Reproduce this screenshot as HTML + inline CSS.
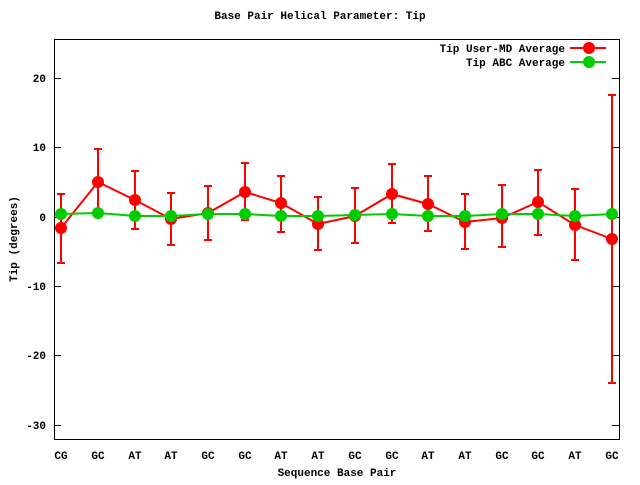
<!DOCTYPE html><html><head><style>body{margin:0;background:#fff}</style></head><body>
<svg width="640" height="480" xmlns="http://www.w3.org/2000/svg" font-family="Liberation Mono, monospace" font-size="11" font-weight="bold">
<rect width="640" height="480" fill="#fff"/>
<text x="320" y="19" text-anchor="middle">Base Pair Helical Parameter: Tip</text>
<rect x="54.5" y="39.5" width="565" height="400" fill="none" stroke="#000"/>
<g stroke="#000">
<line x1="54" y1="78.5" x2="61" y2="78.5"/><line x1="612" y1="78.5" x2="619" y2="78.5"/>
<line x1="54" y1="147.5" x2="61" y2="147.5"/><line x1="612" y1="147.5" x2="619" y2="147.5"/>
<line x1="54" y1="217.5" x2="61" y2="217.5"/><line x1="612" y1="217.5" x2="619" y2="217.5"/>
<line x1="54" y1="286.5" x2="61" y2="286.5"/><line x1="612" y1="286.5" x2="619" y2="286.5"/>
<line x1="54" y1="355.5" x2="61" y2="355.5"/><line x1="612" y1="355.5" x2="619" y2="355.5"/>
<line x1="54" y1="425.5" x2="61" y2="425.5"/><line x1="612" y1="425.5" x2="619" y2="425.5"/>
</g>
<g text-anchor="end">
<text x="46" y="82">20</text><text x="46" y="151">10</text><text x="46" y="221">0</text>
<text x="46" y="290">-10</text><text x="46" y="359">-20</text><text x="46" y="429">-30</text>
</g>
<g text-anchor="middle">
<text x="61" y="459">CG</text><text x="98" y="459">GC</text><text x="135" y="459">AT</text><text x="171" y="459">AT</text>
<text x="208" y="459">GC</text><text x="245" y="459">GC</text><text x="281" y="459">AT</text><text x="318" y="459">AT</text>
<text x="355" y="459">GC</text><text x="392" y="459">GC</text><text x="428" y="459">AT</text><text x="465" y="459">AT</text>
<text x="502" y="459">GC</text><text x="538" y="459">GC</text><text x="575" y="459">AT</text><text x="612" y="459">GC</text>
<text x="337" y="476">Sequence Base Pair</text>
</g>
<text transform="translate(17,239) rotate(-90)" text-anchor="middle">Tip (degrees)</text>
<g stroke="#f00" stroke-width="2" fill="none">
<path d="M61 194V263M57 194H65M57 263H65
M98 149V216M94 149H102
M135 171V229M131 171H139M131 229H139
M171 193V245M167 193H175M167 245H175
M208 186V240M204 186H212M204 240H212
M245 163V220M241 163H249M241 220H249
M281 176V232M277 176H285M277 232H285
M318 197V250M314 197H322M314 250H322
M355 188V243M351 188H359M351 243H359
M392 164V223M388 164H396M388 223H396
M428 176V231M424 176H432M424 231H432
M465 194V249M461 194H469M461 249H469
M502 185V247M498 185H506M498 247H506
M538 170V235M534 170H542M534 235H542
M575 189V260M571 189H579M571 260H579
M612 95V383M608 95H616M608 383H616"/>
<polyline points="61,228 98,182 135,200 171,219 208,213 245,192 281,203 318,224 355,216 392,194 428,204 465,222 502,218 538,202 575,225 612,239"/>
<line x1="570" y1="48" x2="606" y2="48"/>
</g>
<g fill="#f00">
<circle cx="61" cy="228" r="6"/><circle cx="98" cy="182" r="6"/><circle cx="135" cy="200" r="6"/><circle cx="171" cy="219" r="6"/>
<circle cx="208" cy="213" r="6"/><circle cx="245" cy="192" r="6"/><circle cx="281" cy="203" r="6"/><circle cx="318" cy="224" r="6"/>
<circle cx="355" cy="216" r="6"/><circle cx="392" cy="194" r="6"/><circle cx="428" cy="204" r="6"/><circle cx="465" cy="222" r="6"/>
<circle cx="502" cy="218" r="6"/><circle cx="538" cy="202" r="6"/><circle cx="575" cy="225" r="6"/><circle cx="612" cy="239" r="6"/>
<circle cx="589" cy="48" r="6"/>
</g>
<g stroke="#0c0" stroke-width="2" fill="none">
<polyline points="61,214 98,213 135,216 171,216 208,214 245,214 281,216 318,216 355,215 392,214 428,216 465,216 502,214 538,214 575,216 612,214"/>
<line x1="570" y1="62" x2="606" y2="62"/>
</g>
<g fill="#0c0">
<circle cx="61" cy="214" r="6"/><circle cx="98" cy="213" r="6"/><circle cx="135" cy="216" r="6"/><circle cx="171" cy="216" r="6"/>
<circle cx="208" cy="214" r="6"/><circle cx="245" cy="214" r="6"/><circle cx="281" cy="216" r="6"/><circle cx="318" cy="216" r="6"/>
<circle cx="355" cy="215" r="6"/><circle cx="392" cy="214" r="6"/><circle cx="428" cy="216" r="6"/><circle cx="465" cy="216" r="6"/>
<circle cx="502" cy="214" r="6"/><circle cx="538" cy="214" r="6"/><circle cx="575" cy="216" r="6"/><circle cx="612" cy="214" r="6"/>
<circle cx="589" cy="62" r="6"/>
</g>
<g text-anchor="end">
<text x="565" y="52">Tip User-MD Average</text>
<text x="565" y="66">Tip ABC Average</text>
</g>
</svg>
</body></html>
